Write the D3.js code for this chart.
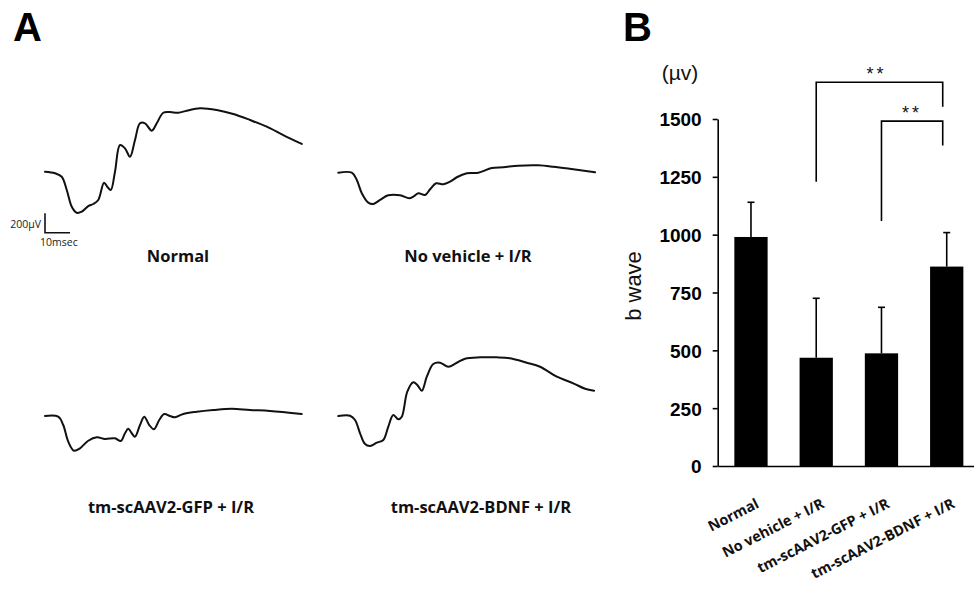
<!DOCTYPE html>
<html><head><meta charset="utf-8">
<script src="https://cdn.jsdelivr.net/npm/d3@7"></script>
<style>
html,body{margin:0;padding:0;background:#fff;}
svg{display:block;}
</style></head>
<body>
<svg id="c" width="974" height="590"></svg>
<script>
// ---------- Data ----------
// Panel A: ERG traces, time in ms, amplitude in µV (relative to start)
const traceNames = ["Normal", "No vehicle + I/R", "tm-scAAV2-GFP + I/R", "tm-scAAV2-BDNF + I/R"];
const normalT = [0,4,6.7,8.7,10.7,12.7,14.7,17.3,19.3,21.3,23.6,24.9,26.3,28,30,32,34,36,38,40,42.7,44.7,47.3,50,53.3,56.7,62,68.7,75.3,82,88.7,95.3,102.7];
const normalV = [0,-16,-52,-189,-361,-423,-412,-354,-333,-292,-113,-155,-189,0,275,241,155,327,499,499,423,499,608,615,608,629,654,636,595,533,464,378,286];
const noVehT = [0,5.4,7.4,9.4,12,14,16.7,20,24.7,28.4,30,32,34.7,36.7,39.1,42,44.7,47.4,51.4,56,61.4,66,72,80,86,94,102.7];
const noVehV = [0,0,-75,-212,-309,-323,-281,-233,-233,-264,-247,-212,-230,-171,-109,-120,-93,-47,-6,0,48,56,72,76,62,35,4];
const gfpT = [0,5.3,7.3,9.3,11.6,14,17.3,20.7,24,28,30.3,32,33.3,34.7,36,38,39.7,41.7,43.6,45.7,47.7,50,52,55.3,60.7,67.3,74.7,82,90,102.7];
const gfpV = [0,-7,-93,-265,-358,-333,-255,-220,-237,-230,-258,-178,-131,-178,-213,-93,-7,-93,-137,-41,21,0,-13,21,44,62,75,62,52,21];
const bdnfT = [0,4.7,6.7,8.7,10.7,12.7,15.4,18,20,22,24,25.4,27.6,30,31.6,33.4,35.4,38,40.7,44,47.4,50.7,56.7,63.4,68.7,75.4,80.7,87.4,94,98.7,102.3];
const bdnfV = [0,3,-41,-178,-289,-309,-275,-247,-110,10,-34,-7,251,347,320,261,405,536,549,508,549,591,605,605,595,549,508,405,337,281,261];
const scaleBarV = 200;   // µV
const scaleBarT = 10;    // msec

// Panel B: b-wave amplitude
const categories = ["Normal", "No vehicle + I/R", "tm-scAAV2-GFP + I/R", "tm-scAAV2-BDNF + I/R"];
const means = [990, 468, 487, 862];
const sds = [150, 257, 199, 147];
const yTicks = [0, 250, 500, 750, 1000, 1250, 1500];
// significance brackets
const bracketFrom = [1, 2];
const bracketTo = [3, 3];
const bracketTop = [1659, 1491];
const bracketLeftFoot = [1229, 1059];
const bracketRightFoot = [1553, 1385];
const bracketLabel = ["**", "**"];

// ---------- Drawing ----------
const svg = d3.select("#c");
svg.append("rect").attr("width", 974).attr("height", 590).attr("fill", "#fff");

const labelFont = "'Open Sans', 'DejaVu Sans', sans-serif";
const arialFont = "'Liberation Sans', Arial, sans-serif";

// Panel letters
svg.append("text").attr("x", 13).attr("y", 41).text("A")
  .attr("font-family", arialFont).attr("font-weight", 700).attr("font-size", 40).attr("fill", "#000");
svg.append("text").attr("x", 623).attr("y", 41).text("B")
  .attr("font-family", arialFont).attr("font-weight", 700).attr("font-size", 40).attr("fill", "#000");

// Panel A
const tx = d3.scaleLinear().domain([0, 10]).range([0, 25]);
const ty = d3.scaleLinear().domain([0, 200]).range([0, -19.4]);
const traces = [
  {T: normalT, V: normalV, ox: 45, oy: 171.7, lx: 178, ly: 262},
  {T: noVehT, V: noVehV, ox: 338.3, oy: 172.7, lx: 468, ly: 262},
  {T: gfpT, V: gfpV, ox: 45, oy: 416, lx: 171, ly: 513},
  {T: bdnfT, V: bdnfV, ox: 338.3, oy: 416, lx: 481, ly: 513}
];
const line = d3.line().x(d => tx(d[0])).y(d => ty(d[1])).curve(d3.curveCatmullRom.alpha(0.5));
traces.forEach((tr, i) => {
  const g = svg.append("g").attr("transform", `translate(${tr.ox},${tr.oy})`);
  g.append("path").datum(tr.T.map((t, k) => [t, tr.V[k]]))
    .attr("d", line).attr("fill", "none").attr("stroke", "#111").attr("stroke-width", 2)
    .attr("stroke-linejoin", "round").attr("stroke-linecap", "round");
  svg.append("text").attr("x", tr.lx).attr("y", tr.ly).attr("text-anchor", "middle")
    .attr("font-family", labelFont).attr("font-weight", 700).attr("font-size", 16.5)
    .attr("fill", "#111").text(traceNames[i]);
});

// scale bar
const sb = svg.append("g").attr("transform", "translate(45,232.7)");
sb.append("path")
  .attr("d", `M${tx(0)},${ty(scaleBarV)}L${tx(0)},${ty(0)}L${tx(scaleBarT)},${ty(0)}`)
  .attr("fill", "none").attr("stroke", "#111").attr("stroke-width", 1.6);
svg.append("text").attr("x", 41).attr("y", 228).attr("text-anchor", "end")
  .attr("font-family", labelFont).attr("font-size", 10.5).attr("fill", "#222").text("200µV");
svg.append("text").attr("x", 40).attr("y", 246)
  .attr("font-family", labelFont).attr("font-size", 10.5).attr("fill", "#222").text("10msec");

// Panel B
const x = d3.scaleBand().domain(categories).range([717.7, 980]).paddingInner(0.49).paddingOuter(0.255);
const y = d3.scaleLinear().domain([0, 1500]).range([466, 119]);

const gB = svg.append("g");
gB.selectAll("rect.bar").data(categories).join("rect").attr("class", "bar")
  .attr("x", d => x(d)).attr("width", x.bandwidth())
  .attr("y", (d, i) => y(means[i])).attr("height", (d, i) => y(0) - y(means[i]))
  .attr("fill", "#000");
categories.forEach((c, i) => {
  const cx = x(c) + x.bandwidth() / 2;
  gB.append("line").attr("x1", cx).attr("x2", cx).attr("y1", y(means[i])).attr("y2", y(means[i] + sds[i]))
    .attr("stroke", "#000").attr("stroke-width", 1.6);
  gB.append("line").attr("x1", cx - 3.5).attr("x2", cx + 3.5).attr("y1", y(means[i] + sds[i])).attr("y2", y(means[i] + sds[i]))
    .attr("stroke", "#000").attr("stroke-width", 1.6);
});

// y axis
const yAxis = d3.axisLeft(y).tickValues(yTicks).tickFormat(d3.format("d"))
  .tickSize(5).tickSizeOuter(0).tickPadding(11);
const ya = svg.append("g").attr("transform", "translate(717.7,0)").call(yAxis);
ya.select(".domain").attr("stroke", "#000").attr("stroke-width", 1.6);
ya.selectAll(".tick line").attr("stroke", "#000").attr("stroke-width", 1.6);
ya.selectAll(".tick text").attr("font-family", arialFont).attr("font-weight", 700)
  .attr("font-size", 19).attr("fill", "#000").attr("dy", "0.36em");

// x axis
const xAxis = d3.axisBottom(x).tickSize(0).tickSizeOuter(0);
const xa = svg.append("g").attr("transform", "translate(0,466)").call(xAxis);
xa.select(".domain").attr("stroke", "#000").attr("stroke-width", 1.6);
xa.selectAll(".tick text")
  .attr("font-family", labelFont).attr("font-weight", 700).attr("font-size", 14.5).attr("fill", "#111")
  .attr("text-anchor", "end").attr("y", 0).attr("dy", 0)
  .attr("transform", "translate(9,41) rotate(-27)");

// axis titles
svg.append("text").attr("x", 680).attr("y", 80).attr("text-anchor", "middle")
  .attr("font-family", arialFont).attr("font-size", 21).attr("fill", "#111").text("(µv)");
svg.append("text").attr("transform", "translate(641,286) rotate(-90)").attr("text-anchor", "middle")
  .attr("font-family", arialFont).attr("font-size", 22).attr("fill", "#111").text("b wave");

// significance brackets
bracketFrom.forEach((f, i) => {
  const x1 = x(categories[f]) + x.bandwidth() / 2;
  const x2 = x(categories[bracketTo[i]]) + x.bandwidth() / 2 - 4;
  gB.append("path")
    .attr("d", `M${x1},${y(bracketLeftFoot[i])}L${x1},${y(bracketTop[i])}L${x2},${y(bracketTop[i])}L${x2},${y(bracketRightFoot[i])}`)
    .attr("fill", "none").attr("stroke", "#000").attr("stroke-width", 1.6);
  gB.append("text").attr("x", (x1 + x2) / 2 + (i === 0 ? -3 : 0)).attr("y", y(bracketTop[i]) - 2)
    .attr("text-anchor", "middle").attr("font-family", arialFont).attr("font-size", 18).attr("fill", "#111")
    .attr("letter-spacing", 3).text(bracketLabel[i]);
});
</script>
</body></html>
